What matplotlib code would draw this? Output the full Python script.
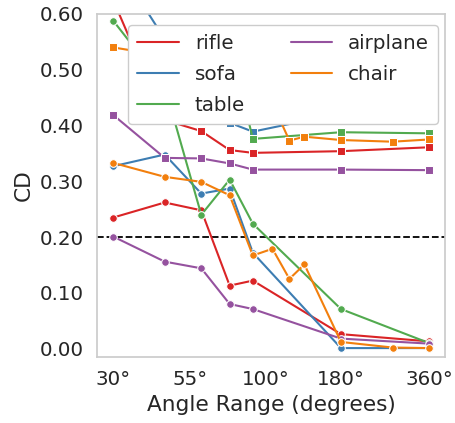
import numpy as np
import matplotlib
matplotlib.use("Agg")
import matplotlib.pyplot as plt
import seaborn as sns

nan = np.nan

# Angle ranges (degrees) sampled in the sweep
angles = [30, 45, 60, 75, 90, 105, 120, 135, 180, 270, 360]

categories = ["rifle", "sofa", "table", "airplane", "chair"]

# Chamfer distance per category: circles = first metric, squares = second metric
rifle_circle = [0.235, 0.262, 0.248, 0.113, 0.122, nan, nan, nan, 0.026, nan, 0.013]
rifle_square = [0.625, 0.410, 0.390, 0.356, 0.351, nan, nan, nan, 0.354, nan, 0.361]
sofa_circle = [0.327, 0.348, 0.278, 0.287, 0.172, nan, nan, nan, 0.001, nan, 0.001]
sofa_square = [0.700, 0.555, 0.470, 0.405, 0.389, nan, nan, nan, 0.422, nan, 0.430]
table_circle = [0.588, 0.470, 0.240, 0.303, 0.224, nan, nan, nan, 0.071, nan, 0.010]
table_square = [nan, 0.570, 0.560, 0.550, 0.376, nan, nan, nan, 0.388, nan, 0.386]
airplane_circle = [0.201, 0.156, 0.144, 0.080, 0.071, nan, nan, nan, 0.018, nan, 0.009]
airplane_square = [0.419, 0.342, 0.341, 0.332, 0.321, nan, nan, nan, 0.321, nan, 0.320]
chair_circle = [0.333, 0.308, 0.299, 0.275, 0.167, 0.179, 0.125, 0.151, 0.012, 0.002, 0.001]
chair_square = [0.540, 0.525, 0.500, 0.480, 0.460, 0.440, 0.373, 0.380, 0.374, 0.371, 0.375]

circle_series = [rifle_circle, sofa_circle, table_circle, airplane_circle, chair_circle]
square_series = [rifle_square, sofa_square, table_square, airplane_square, chair_square]

xticks = [30, 55, 100, 180, 360]
xticklabels = ["30°", "55°", "100°", "180°", "360°"]
threshold = 0.20

sns.set_theme(style="whitegrid", context="notebook", font_scale=1.3)
palette = sns.color_palette("Set1", 5, desat=0.9)

fig = plt.figure(figsize=(4.55, 4.23), dpi=100)
ax = fig.add_axes([0.213, 0.156, 0.765, 0.811])
ax.grid(False)

x = np.array(angles, dtype=float)
handles = []
for name, col, yc, ys in zip(categories, palette, circle_series, square_series):
    for vals, mk in ((yc, "o"), (ys, "s")):
        v = np.array(vals, dtype=float)
        m = np.isfinite(v)
        ax.plot(x[m], v[m], color=col, lw=1.5, marker=mk, ms=5.5,
                mec="white", mew=0.75)
    handles.append(plt.Line2D([], [], color=col, lw=1.5, label=name))

ax.axhline(threshold, color="black", ls="--", lw=1.3, zorder=1)

ax.set_xscale("log")
ax.set_xticks(xticks)
ax.set_xticklabels(xticklabels)
ax.xaxis.set_minor_locator(matplotlib.ticker.NullLocator())
ax.set_xlim(26.4, 408)
ax.set_ylim(-0.015, 0.60)
ax.set_yticks(np.arange(0, 0.61, 0.1))
ax.yaxis.set_major_formatter(matplotlib.ticker.FormatStrFormatter("%.2f"))
ax.set_xlabel("Angle Range (degrees)")
ax.set_ylabel("CD")

ax.legend(handles=handles, ncol=2, loc="upper center",
          bbox_to_anchor=(0.535, 0.968), borderaxespad=0, framealpha=1,
          labelspacing=0.6, borderpad=0.45, columnspacing=2.3,
          handlelength=2.1)

fig.savefig("out.png", dpi=100)
